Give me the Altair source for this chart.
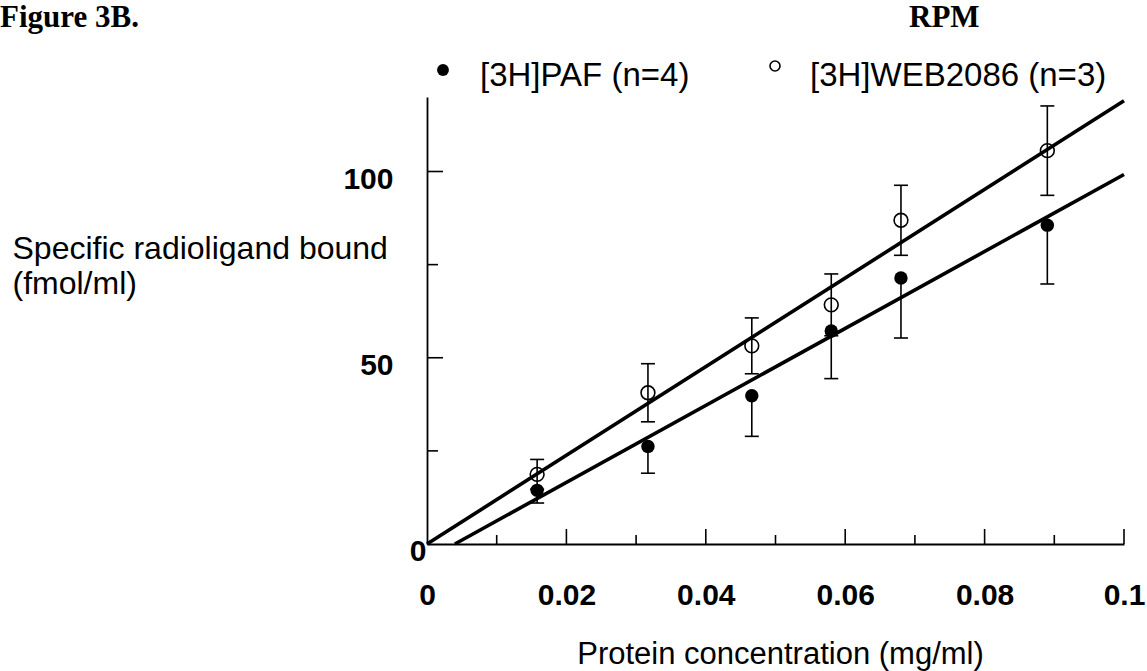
import altair as alt
import pandas as pd

# ---- data ----
conc = [0.0158, 0.0317, 0.0466, 0.058, 0.068, 0.089]
paf_mean = [14.4, 26.2, 39.8, 57.2, 71.4, 85.6]
paf_err = [3.4, 7.2, 10.9, 12.8, 16.1, 15.8]      # drawn downward only
web_mean = [18.7, 40.6, 53.2, 64.2, 86.9, 105.6]
web_err = [4.0, 7.8, 7.5, 8.3, 9.4, 12.0]

fit_paf_x = [0.004, 0.1]
fit_paf_y = [0.0, 99.2]
fit_web_x = [0.0, 0.1]
fit_web_y = [0.0, 119.0]

x_tick_values = [0, 0.02, 0.04, 0.06, 0.08, 0.1]
x_major_ticks = [0.02, 0.04, 0.06, 0.08, 0.1]
x_minor_ticks = [0.01, 0.03, 0.05, 0.07, 0.09]
y_tick_values = [50, 100]
y_zero_label = [0]
y_major_ticks = [50, 100]
y_minor_ticks = [25, 75]

legend_labels = ["[3H]PAF (n=4)", "[3H]WEB2086 (n=3)"]
y_title = ["Specific radioligand bound", "(fmol/ml)"]
x_title = "Protein concentration (mg/ml)"

W, H = 697, 447
SANS = "Liberation Sans"
SERIF = "Liberation Serif"

xs = alt.Scale(domain=[0, 0.1], nice=False)
ys = alt.Scale(domain=[0, 120], nice=False)

paf = pd.DataFrame({"x": conc, "m": paf_mean,
                    "lo": [m - e for m, e in zip(paf_mean, paf_err)],
                    "hi": paf_mean})
web = pd.DataFrame({"x": conc, "m": web_mean,
                    "lo": [m - e for m, e in zip(web_mean, web_err)],
                    "hi": [m + e for m, e in zip(web_mean, web_err)]})
caps = pd.DataFrame({
    "x": conc + conc + conc,
    "y": list(paf["lo"]) + list(web["lo"]) + list(web["hi"]),
})
fit_paf = pd.DataFrame({"x": fit_paf_x, "y": fit_paf_y})
fit_web = pd.DataFrame({"x": fit_web_x, "y": fit_web_y})

x_axis = alt.Axis(values=x_tick_values, format=".2~f", grid=False, ticks=False, tickSize=0,
                  labelFont=SANS, labelFontSize=30, labelFontWeight="bold", labelColor="black",
                  labelPadding=36, domainColor="black", domainWidth=1.8,
                  title=x_title, titleFont=SANS, titleFontSize=31, titleFontWeight="normal",
                  titleColor="black", titleX=353, titleY=119, titleAlign="center",
                  titleBaseline="alphabetic", labelFlush=False)
y_axis = alt.Axis(values=y_tick_values, format="d", grid=False, ticks=False, tickSize=0,
                  labelFont=SANS, labelFontSize=30, labelFontWeight="bold", labelColor="black",
                  labelPadding=34, labelOffset=8, domainColor="black", domainWidth=1.8,
                  title=y_title, titleFont=SANS, titleFontSize=32, titleFontWeight="normal",
                  titleColor="black", titleAngle=0, titleAlign="left", titleBaseline="alphabetic",
                  titleX=-415, titleY=161, titleLineHeight=35, labelFlush=False)

base_axes = alt.Chart(fit_web).mark_line(strokeWidth=3.6, color="black").encode(
    x=alt.X("x:Q", scale=xs, axis=x_axis),
    y=alt.Y("y:Q", scale=ys, axis=y_axis),
)
line_paf = alt.Chart(fit_paf).mark_line(strokeWidth=3.6, color="black").encode(
    x=alt.X("x:Q", scale=xs), y=alt.Y("y:Q", scale=ys))

bars_paf = alt.Chart(paf).mark_rule(color="black", strokeWidth=1.6).encode(
    x=alt.X("x:Q", scale=xs), y=alt.Y("lo:Q", scale=ys), y2="hi:Q")
bars_web = alt.Chart(web).mark_rule(color="black", strokeWidth=1.6).encode(
    x=alt.X("x:Q", scale=xs), y=alt.Y("lo:Q", scale=ys), y2="hi:Q")
cap_marks = alt.Chart(caps).mark_tick(orient="horizontal", size=14, thickness=1.6,
                                      color="black", opacity=1).encode(
    x=alt.X("x:Q", scale=xs), y=alt.Y("y:Q", scale=ys))

pts_paf = alt.Chart(paf).mark_circle(size=180, color="black", opacity=1).encode(
    x=alt.X("x:Q", scale=xs), y=alt.Y("m:Q", scale=ys))
pts_web = alt.Chart(web).mark_point(shape="circle", size=190, filled=False, color="black",
                                    strokeWidth=1.6, opacity=1).encode(
    x=alt.X("x:Q", scale=xs), y=alt.Y("m:Q", scale=ys))

# y-axis "0" label sits close to the corner
zero_df = pd.DataFrame({"v": y_zero_label})
zero_lbl = alt.Chart(zero_df).mark_text(font=SANS, fontSize=30, fontWeight="bold",
                                        align="center", baseline="middle", color="black",
                                        dy=8).encode(
    y=alt.Y("v:Q", scale=ys), x=alt.value(-9), text=alt.Text("v:Q", format="d"))

# inward ticks
def tick_layer(vals, length, horizontal_axis):
    df = pd.DataFrame({"v": vals})
    if horizontal_axis:
        return alt.Chart(df).mark_rule(color="black", strokeWidth=1.6).encode(
            x=alt.X("v:Q", scale=xs), y=alt.value(H), y2=alt.value(H - length))
    return alt.Chart(df).mark_rule(color="black", strokeWidth=1.6).encode(
        y=alt.Y("v:Q", scale=ys), x=alt.value(0), x2=alt.value(length))

ticks = [tick_layer(x_major_ticks, 15, True), tick_layer(x_minor_ticks, 9, True),
         tick_layer(y_major_ticks, 16, False), tick_layer(y_minor_ticks, 11, False)]

# legend (manual)
leg_df = pd.DataFrame({"t": legend_labels})
leg_sym1 = alt.Chart(leg_df.iloc[[0]]).mark_circle(size=140, color="black", opacity=1).encode(
    x=alt.value(16), y=alt.value(-27))
leg_sym2 = alt.Chart(leg_df.iloc[[1]]).mark_point(shape="circle", size=100, filled=False,
                                                  color="black", strokeWidth=1.6, opacity=1).encode(
    x=alt.value(348), y=alt.value(-31))
leg_txt1 = alt.Chart(leg_df.iloc[[0]]).mark_text(font=SANS, fontSize=33, align="left",
                                                 baseline="alphabetic", color="black").encode(
    text="t:N", x=alt.value(53), y=alt.value(-11))
leg_txt2 = alt.Chart(leg_df.iloc[[1]]).mark_text(font=SANS, fontSize=33, align="left",
                                                 baseline="alphabetic", color="black").encode(
    text="t:N", x=alt.value(383), y=alt.value(-11))

hdr = pd.DataFrame({"t": ["Figure 3B.", "RPM"]})
fig_lbl = alt.Chart(hdr.iloc[[0]]).mark_text(font=SERIF, fontSize=31, fontWeight="bold",
                                             align="left", baseline="alphabetic", color="black").encode(
    text="t:N", x=alt.value(-427), y=alt.value(-70))
rpm_lbl = alt.Chart(hdr.iloc[[1]]).mark_text(font=SERIF, fontSize=31, fontWeight="bold",
                                             align="left", baseline="alphabetic", color="black").encode(
    text="t:N", x=alt.value(482), y=alt.value(-70))

chart = alt.layer(
    base_axes, line_paf, bars_paf, bars_web, cap_marks, pts_paf, pts_web, zero_lbl,
    *ticks, leg_sym1, leg_sym2, leg_txt1, leg_txt2, fig_lbl, rpm_lbl
).properties(
    width=W, height=H, autosize="none",
    padding={"left": 427, "top": 97, "right": 23, "bottom": 127},
    background="white",
).configure_view(stroke=None)

chart.save("out.html", embed_options={"renderer": "svg", "actions": False})
